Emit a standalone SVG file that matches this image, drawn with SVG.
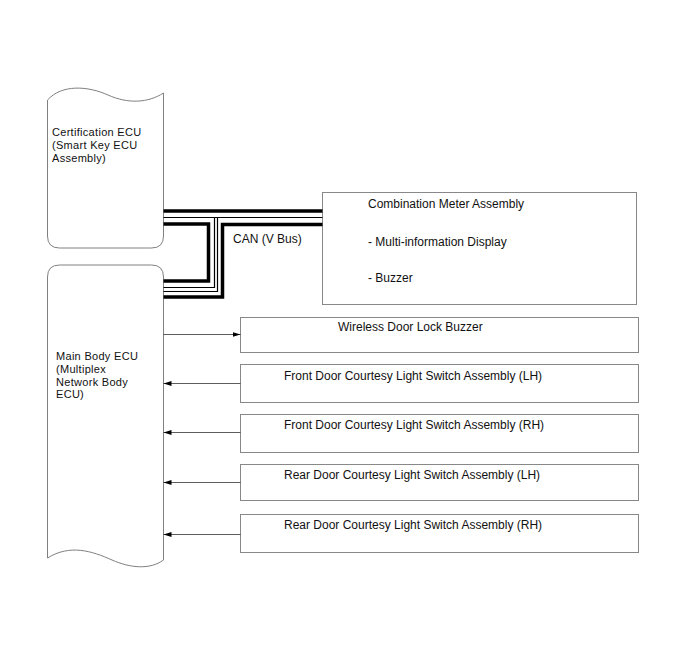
<svg xmlns="http://www.w3.org/2000/svg" width="688" height="658" viewBox="0 0 688 658">
<defs>
<marker id="arr" markerWidth="9" markerHeight="6" refX="8" refY="3" orient="auto" markerUnits="userSpaceOnUse">
<path d="M0,0.5 L8,3 L0,5.5 z" fill="#000"/>
</marker>
<style>
.ecu{fill:#fff;stroke:#808080;stroke-width:1}
.box{fill:#fff;stroke:#888;stroke-width:1}
.t{font-family:"Liberation Sans",Arial,sans-serif;font-size:12px;fill:#111}
.e{font-family:"Liberation Sans",Arial,sans-serif;font-size:11px;letter-spacing:0.3px;fill:#111}
.thick{fill:none;stroke:#000;stroke-width:3.5}
.thin{fill:none;stroke:#000;stroke-width:1.2}
.sig{fill:none;stroke:#333;stroke-width:0.8;marker-end:url(#arr)}
</style>
</defs>
<rect width="688" height="658" fill="#fff"/>

<g id="cert-ecu">
<path class="ecu" d="M47.5,100 C62,84 88,86 108,95 C128,104 148,103 163.5,93 L163.5,236 Q163.5,248 151.5,248 L59.5,248 Q47.5,248 47.5,236 Z"/>
<text class="e" x="52" y="136.3">Certification ECU</text>
<text class="e" x="52" y="149">(Smart Key ECU</text>
<text class="e" x="52" y="161.7">Assembly)</text>
</g>

<g id="main-body-ecu">
<path class="ecu" d="M59.5,265 L151.5,265 Q163.5,265 163.5,277 L163.5,560 C150,570 130,568 112,560 C92,551 70,544 47.5,558 L47.5,277 Q47.5,265 59.5,265 Z"/>
<text class="e" x="56" y="360.2">Main Body ECU</text>
<text class="e" x="56" y="372.9">(Multiplex</text>
<text class="e" x="56" y="385.6">Network Body</text>
<text class="e" x="56" y="398.3">ECU)</text>
</g>

<g id="combination-meter">
<rect class="box" x="322.5" y="192.5" width="314" height="112"/>
<text class="t" x="368" y="208">Combination Meter Assembly</text>
<text class="t" x="368" y="246">- Multi-information Display</text>
<text class="t" x="368" y="282">- Buzzer</text>
</g>

<g id="wireless-buzzer">
<rect class="box" x="240.5" y="317.5" width="398" height="35"/>
<text class="t" x="338" y="331">Wireless Door Lock Buzzer</text>
</g>

<g id="front-lh">
<rect class="box" x="240.5" y="364.5" width="398" height="38"/>
<text class="t" x="284" y="380">Front Door Courtesy Light Switch Assembly (LH)</text>
</g>

<g id="front-rh">
<rect class="box" x="240.5" y="414.5" width="398" height="38"/>
<text class="t" x="284" y="429">Front Door Courtesy Light Switch Assembly (RH)</text>
</g>

<g id="rear-lh">
<rect class="box" x="240.5" y="464.5" width="398" height="36"/>
<text class="t" x="284" y="479">Rear Door Courtesy Light Switch Assembly (LH)</text>
</g>

<g id="rear-rh">
<rect class="box" x="240.5" y="514.5" width="398" height="38"/>
<text class="t" x="284" y="529">Rear Door Courtesy Light Switch Assembly (RH)</text>
</g>

<g id="connectors">
<path class="thick" d="M163.5,211 L322.5,211"/>
<path class="thin" d="M163.5,217.5 L322.5,217.5"/>
<path class="thick" d="M163.5,224 L208.5,224 L208.5,281 L163.5,281"/>
<path class="thin" d="M214.5,217.5 L214.5,287.5 L163.5,287.5"/>
<path class="thin" d="M217.5,217.5 L217.5,291.5 L163.5,291.5"/>
<path class="thick" d="M322.5,224.5 L222.5,224.5 L222.5,297 L163.5,297"/>
<text class="t" x="233" y="243">CAN (V Bus)</text>
<path class="sig" d="M163.5,334.5 L240.5,334.5"/>
<path class="sig" d="M240.5,383.5 L163.5,383.5"/>
<path class="sig" d="M240.5,432.5 L163.5,432.5"/>
<path class="sig" d="M240.5,482.5 L163.5,482.5"/>
<path class="sig" d="M240.5,534.5 L163.5,534.5"/>
</g>
</svg>
